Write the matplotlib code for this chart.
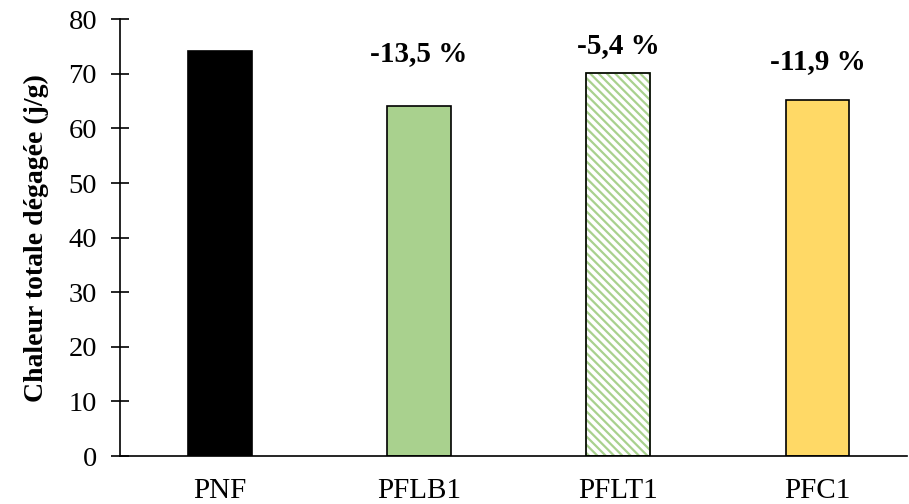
import matplotlib
matplotlib.use("Agg")
import matplotlib.pyplot as plt

# Données
categories = ["PNF", "PFLB1", "PFLT1", "PFC1"]
chaleur = [74.2, 64.1, 70.1, 65.2]
variations = ["", "-13,5 %", "-5,4 %", "-11,9 %"]
label_y = [0, 73.7, 75.1, 72.3]

plt.rcParams['font.family'] = ['Liberation Serif', 'DejaVu Serif']
plt.rcParams['hatch.linewidth'] = 1.6

fig = plt.figure(figsize=(9.09, 5.04), dpi=100)
ax = fig.add_axes([0.132, 0.095, 0.866, 0.867])

couleurs = ["black", "#A9D18E", "white", "#FFD966"]
barres = ax.bar(range(len(categories)), chaleur, width=0.32, color=couleurs,
                edgecolor="black", linewidth=1.2)
barres[2].set_hatch("\\\\\\\\")
barres[2].set_edgecolor("#A9D18E")
# bordure noire par-dessus la hachure verte
ax.bar([2], [chaleur[2]], width=0.32, color="none", edgecolor="black", linewidth=1.2)

for i, txt in enumerate(variations):
    if txt:
        ax.text(i, label_y[i], txt, ha="center", va="center", fontsize=21, fontweight="bold")

ax.set_ylim(0, 80)
ax.set_xlim(-0.5, 3.45)
ax.set_yticks(range(0, 81, 10))
ax.set_xticks(range(len(categories)))
ax.set_xticklabels(categories)
ax.tick_params(axis="y", direction="inout", length=13, width=1.2, labelsize=20.5, pad=10)
ax.tick_params(axis="x", length=0, labelsize=21, pad=16)
ax.spines["top"].set_visible(False)
ax.spines["right"].set_visible(False)
ax.spines["left"].set_linewidth(1.2)
ax.spines["bottom"].set_linewidth(1.2)
ax.set_ylabel("Chaleur totale dégagée (j/g)", fontsize=20, fontweight="bold", labelpad=14)

fig.savefig("out.png", dpi=100)
